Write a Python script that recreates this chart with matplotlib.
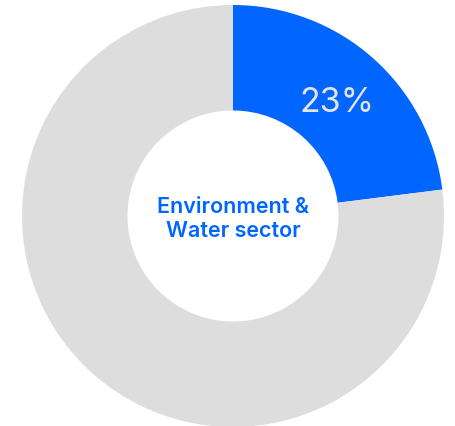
import matplotlib.pyplot as plt

# donnees
labels = ["Environment & Water sector", "Other"]
values = [23, 77]
colors = ["#0066FF", "#DDDDDD"]
pct_label = "23%"
center_text = "Environment &\nWater sector"

W, H = 455, 427
cx, cy, r = 233, 217, 211  # centre et rayon en pixels

fig = plt.figure(figsize=(W / 100, H / 100), dpi=100)
ax = fig.add_axes([0, 0, 1, 1])
ax.pie(values, colors=colors, startangle=90, counterclock=False,
       radius=1, wedgeprops=dict(width=0.5, edgecolor="none"))
ax.set_xlim(-cx / r, (W - cx) / r)
ax.set_ylim(-(H - cy) / r, cy / r)
ax.set_aspect("equal")
ax.axis("off")

# etiquette du pourcentage
ax.text((337 - cx) / r, (cy - 103) / r, pct_label, color="#E4E4E4",
        fontsize=24.5, ha="center", va="center", family="Inter")

# texte au centre
ax.text(0, (cy - 219) / r, center_text, color="#0066FF", fontsize=15.5,
        fontweight="semibold", ha="center", va="center", family="Inter",
        linespacing=1.25)

fig.savefig("out.png", dpi=100)
